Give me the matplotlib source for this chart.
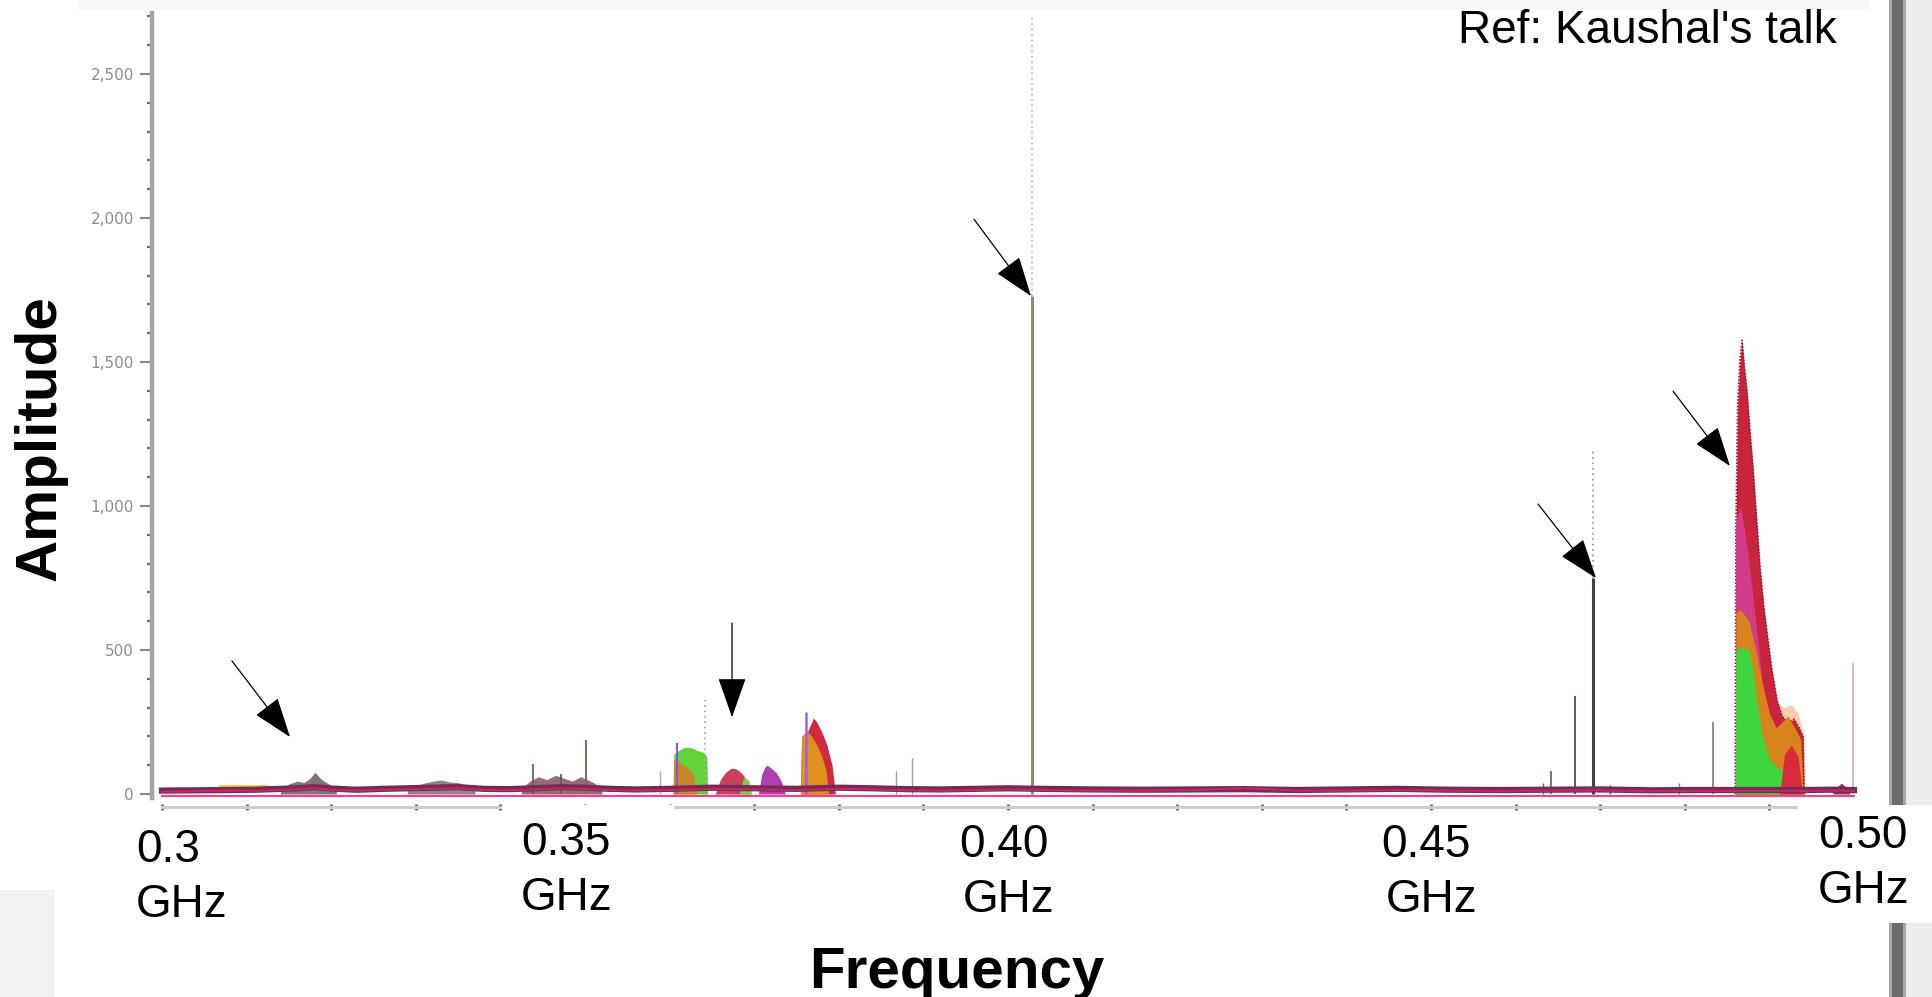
import matplotlib
matplotlib.use("Agg")
import matplotlib.pyplot as plt
from matplotlib.patches import Rectangle
from matplotlib.ticker import MultipleLocator, FuncFormatter

# ---------------- data (frequency in GHz, amplitude in arbitrary units) ----------------
base_freq = [0.3000, 0.3040, 0.3080, 0.3110, 0.3140, 0.3160, 0.3180, 0.3200, 0.3230, 0.3260,
             0.3290, 0.3320, 0.3350, 0.3380, 0.3410, 0.3440, 0.3470, 0.3500, 0.3530, 0.3560,
             0.3600, 0.3650, 0.3700, 0.3750, 0.3800, 0.3840, 0.3880, 0.3920, 0.3960, 0.4000,
             0.4040, 0.4100, 0.4160, 0.4220, 0.4280, 0.4340, 0.4400, 0.4460, 0.4520, 0.4580,
             0.4640, 0.4700, 0.4760, 0.4820, 0.4860, 0.4940, 0.4970, 0.5000]
base_amp = [12, 13, 14, 15, 18, 20, 24, 19, 15, 18,
            20, 22, 24, 18, 17, 20, 24, 22, 18, 16,
            18, 22, 20, 18, 22, 20, 17, 16, 18, 20,
            18, 16, 15, 16, 17, 14, 16, 18, 15, 14,
            15, 16, 13, 14, 14, 14, 15, 14]
base2_amp = [8, 10, 12, 11, 14, 16, 20, 14, 12, 15,
             16, 18, 20, 14, 13, 16, 20, 18, 14, 12,
             14, 18, 16, 14, 18, 16, 13, 12, 14, 16,
             14, 12, 12, 14, 20, 12, 12, 14, 12, 11,
             12, 13, 10, 11, 11, 11, 12, 11]
floor_freq = [0.3000, 0.5000]
floor_amp = [-6, -6]

# low bumps
bumpA_freq = [0.3140, 0.3150, 0.3160, 0.3168, 0.3175, 0.3181, 0.3187, 0.3193, 0.3200, 0.3206]
bumpA_amp = [15, 35, 45, 40, 55, 76, 55, 42, 30, 15]
bumpB_freq = [0.3290, 0.3300, 0.3310, 0.3320, 0.3330, 0.3340, 0.3350, 0.3360, 0.3370]
bumpB_amp = [15, 30, 38, 45, 49, 42, 40, 30, 15]
yellow_freq = [0.3069, 0.3124]
yellow_amp = [27, 27]
cluster_freq = [0.3425, 0.3435, 0.3445, 0.3455, 0.3465, 0.3475, 0.3485, 0.3495, 0.3510, 0.3520]
cluster_amp = [20, 45, 60, 50, 65, 55, 45, 60, 40, 20]

# 0.36 - 0.38 GHz structures
green1_freq = [0.36040, 0.36050, 0.36100, 0.36160, 0.36220, 0.36280, 0.36340, 0.36400, 0.36440, 0.36450]
green1_amp = [0, 140, 150, 160, 163, 158, 150, 145, 130, 0]
orange1_freq = [0.36040, 0.36050, 0.36120, 0.36200, 0.36280, 0.36320]
orange1_amp = [0, 120, 110, 95, 70, 0]
bump2_freq = [0.36540, 0.36600, 0.36660, 0.36720, 0.36753, 0.36800, 0.36860, 0.36920, 0.36955]
bump2_amp = [0, 50, 75, 88, 90, 85, 70, 45, 0]
bump2g_freq = [0.3682, 0.3688, 0.3694, 0.3697]
bump2g_amp = [0, 60, 45, 0]
purple3_freq = [0.37049, 0.37090, 0.37130, 0.37156, 0.37200, 0.37260, 0.37320, 0.37369]
purple3_amp = [0, 70, 95, 100, 90, 75, 45, 0]
red4_freq = [0.37546, 0.37560, 0.37620, 0.37680, 0.37700, 0.37740, 0.37800, 0.37860, 0.37920, 0.37960]
red4_amp = [0, 180, 210, 250, 264, 250, 215, 170, 100, 0]
orange4_freq = [0.37546, 0.37560, 0.37620, 0.37680, 0.37740, 0.37800, 0.37850, 0.37880]
orange4_amp = [0, 200, 220, 200, 170, 130, 80, 0]

# big peak near 0.487 GHz
peak_red_freq = [0.48597, 0.48603, 0.48625, 0.48650, 0.48676, 0.48705, 0.48735, 0.48770, 0.48806,
                 0.48850, 0.48889, 0.48930, 0.48972, 0.49030, 0.49090, 0.49150, 0.49220, 0.49290,
                 0.49350, 0.49397, 0.49410]
peak_red_amp = [0, 900, 1350, 1500, 1576, 1480, 1400, 1260, 1135,
                950, 788, 660, 559, 430, 326, 270, 250, 260,
                230, 200, 0]
peak_fringe_freq = [0.4903, 0.4910, 0.4918, 0.4926, 0.4934, 0.4941, 0.4942]
peak_fringe_amp = [250, 316, 300, 310, 280, 200, 0]
peak_mag_freq = [0.48597, 0.48605, 0.48660, 0.48740, 0.48820, 0.48900, 0.48980]
peak_mag_amp = [0, 950, 1000, 850, 650, 430, 0]
peak_orange_freq = [0.48597, 0.48605, 0.48660, 0.48760, 0.48840, 0.48920, 0.49000, 0.49080,
                    0.49150, 0.49220, 0.49300, 0.49370, 0.49400]
peak_orange_amp = [0, 630, 640, 600, 500, 380, 280, 230, 250, 270, 230, 190, 0]
peak_green_freq = [0.48597, 0.48605, 0.48660, 0.48760, 0.48810, 0.48860, 0.48920, 0.49000,
                   0.49100, 0.49200, 0.49300, 0.49380]
peak_green_amp = [0, 500, 510, 500, 420, 300, 200, 120, 90, 80, 70, 0]
peak_red2_freq = [0.4912, 0.4918, 0.4926, 0.4934, 0.4939]
peak_red2_amp = [0, 140, 170, 130, 0]
bump5_freq = [0.4975, 0.4980, 0.4985, 0.4990, 0.4995]
bump5_amp = [12, 25, 38, 25, 12]

# narrow spectral lines
spike_freq = [0.3438, 0.3472, 0.3501, 0.3589, 0.3609, 0.3761, 0.3868, 0.3887,
              0.4028, 0.4632, 0.4642, 0.4670, 0.4692, 0.4711, 0.4793, 0.4833, 0.4999]
spike_amp = [103, 68, 188, 80, 177, 285, 81, 124,
             1730, 40, 80, 340, 750, 30, 40, 250, 455]
spike_color = ["#7a4a50", "#7a4a50", "#8a6a60", "#b0b0b0", "#9050d0", "#a060e0", "#a0a0a0", "#a0a0a0",
               "#978c6e", "#6a5a60", "#6a5a60", "#5a4a50", "#4b3b44", "#7a5a60", "#8a7a80", "#9a8a86", "#d8b8c0"]
spike_width = [1.2, 1.2, 1.5, 1.0, 1.5, 1.8, 1.0, 1.0,
               2.2, 1.0, 1.2, 1.3, 2.2, 1.0, 1.0, 1.4, 1.4]
dotted_freq = [0.3642, 0.4028, 0.4692]
dotted_lo = [20, 1730, 750]
dotted_hi = [326, 2700, 1190]

y_major = 500
y_minor = 100
x_ticks = [0.30, 0.31, 0.32, 0.33, 0.34, 0.35, 0.36, 0.37, 0.38, 0.39,
           0.40, 0.41, 0.42, 0.43, 0.44, 0.45, 0.46, 0.47, 0.48, 0.49]
ghz_labels = ["0.3", "0.35", "0.40", "0.45", "0.50"]

# arrows: (tail_freq, tail_amp, tip_freq, tip_amp)
arrows = [(0.30827, 462, 0.31513, 198),
          (0.36738, 594, 0.36738, 267),
          (0.39598, 1996, 0.40272, 1729),
          (0.46265, 1007, 0.46950, 750),
          (0.47861, 1399, 0.48534, 1139)]

# ---------------- figure ----------------
W, H = 1933, 997
fig = plt.figure(figsize=(W / 100, H / 100), dpi=100)
fig.patch.set_facecolor("white")


def rect(x, y, w, h, color, z):
    fig.add_artist(Rectangle((x / W, 1 - (y + h) / H), w / W, h / H, transform=fig.transFigure,
                             facecolor=color, edgecolor="none", zorder=z))


# slide background bits
rect(79, 0, 1790, 10, "#f8f7f3", -2)
rect(0, 890, 55, 107, "#f2f2f0", -2)
rect(1903, 0, 30, 997, "#ececea", -2)
rect(1889, 0, 3, 997, "#a8a8a8", -2)
rect(1892, 0, 11, 997, "#6c6c6c", -2)
rect(1903, 0, 3, 997, "#a8a8a8", -2)

ax = fig.add_axes([152 / W, (H - 807) / H, 1710 / W, (807 - 13) / H])
ax.set_facecolor("none")
ax.set_xlim(0.298818, 0.500946)
ax.set_ylim(-45, 2712)

fill = dict(lw=0, zorder=2)
# low-level structures
ax.fill_between(bumpA_freq, 0, bumpA_amp, color="#6b5b6b", alpha=0.85, **fill)
ax.fill_between(bumpB_freq, 0, bumpB_amp, color="#6b5b6b", alpha=0.75, **fill)
ax.plot(yellow_freq, yellow_amp, color="#e8d040", lw=2, zorder=2)
ax.fill_between(cluster_freq, 0, cluster_amp, color="#7a4a4a", alpha=0.8, **fill)

ax.fill_between(green1_freq, 0, green1_amp, color="#62d23a", **fill)
ax.fill_between(orange1_freq, 0, orange1_amp, color="#c8882a", **fill)
ax.fill_between(bump2_freq, 0, bump2_amp, color="#c84060", **fill)
ax.fill_between(bump2g_freq, 0, bump2g_amp, color="#7ad040", **fill)
ax.fill_between(purple3_freq, 0, purple3_amp, color="#b040b0", **fill)
ax.fill_between(red4_freq, 0, red4_amp, color="#d02a40", **fill)
ax.fill_between(orange4_freq, 0, orange4_amp, color="#e0901c", **fill)

# big peak
ax.fill_between(peak_fringe_freq, 0, peak_fringe_amp, color="#f0b070", alpha=0.6, **fill)
ax.fill_between(peak_red_freq, 0, peak_red_amp, color="#c8243c", **fill)
ax.plot(peak_red_freq, peak_red_amp, color="#a01830", lw=1.2, ls=(0, (1, 1)), zorder=2)
ax.fill_between(peak_mag_freq, 0, peak_mag_amp, color="#d23a8a", **fill)
ax.fill_between(peak_orange_freq, 0, peak_orange_amp, color="#d8841c", **fill)
ax.fill_between(peak_green_freq, 0, peak_green_amp, color="#3ed63e", **fill)
ax.fill_between(peak_red2_freq, 0, peak_red2_amp, color="#d82a3a", **fill)
ax.fill_between(bump5_freq, 0, bump5_amp, color="#8a3a5a", **fill)

# narrow lines
ax.vlines(spike_freq, 0, spike_amp, colors=spike_color, linewidths=spike_width, zorder=3)
ax.vlines(dotted_freq, dotted_lo, dotted_hi, colors=["#b0b0b0", "#c0b8b0", "#a89aa0"],
          linewidths=1.3, linestyles=(0, (1, 2)), zorder=3)

# baseline traces
ax.plot(base_freq, base_amp, color="#7b2856", lw=4.5, zorder=4, solid_joinstyle="round")
ax.plot(base_freq, base2_amp, color="#c83060", lw=1.5, alpha=0.8, zorder=4)
ax.plot(floor_freq, floor_amp, color="#ff3a96", lw=1.5, zorder=4)

# arrows
for tf, ta, hf, ha in arrows:
    ax.annotate("", xy=(hf, ha), xytext=(tf, ta),
                arrowprops=dict(arrowstyle="-|>,head_length=1.7,head_width=0.6", mutation_scale=15,
                                lw=0.9, color="black", shrinkA=0, shrinkB=0), zorder=6)

# axes styling
for s in ("top", "right"):
    ax.spines[s].set_visible(False)
ax.spines["left"].set_color("#a5a5a5")
ax.spines["left"].set_linewidth(3.2)
ax.spines["left"].set_bounds(-14, 2712)
ax.spines["bottom"].set_color("#cdcdcd")
ax.spines["bottom"].set_linewidth(2.2)
ax.spines["bottom"].set_bounds(0.3, 0.4933)

ax.yaxis.set_major_locator(MultipleLocator(y_major))
ax.yaxis.set_minor_locator(MultipleLocator(y_minor))
ax.yaxis.set_major_formatter(FuncFormatter(lambda v, p: f"{int(v):,}"))
ax.tick_params(axis="y", which="major", length=9, width=1.5, color="#8a8a8a",
               labelsize=11, labelcolor="#8c8c8c", pad=4)
ax.tick_params(axis="y", which="minor", length=3.5, width=1.6, color="#6a6a6a")
ax.set_xticks(x_ticks)
ax.set_xticklabels([])
ax.tick_params(axis="x", which="major", length=5, width=2, color="#606060", direction="inout")

# white text boxes covering parts of the original axis
rect(502, 805, 172, 120, "white", 5)
rect(1798, 805, 135, 118, "white", 5)

txt = dict(family="Liberation Sans", color="black", zorder=7)
ghz_pos = [(136, 862), (521, 855), (959, 857), (1381, 857), (1818, 848)]
ghz_unit_dx = [0, 0, 4, 5, 0]
for lab, (x, yb), dx in zip(ghz_labels, ghz_pos, ghz_unit_dx):
    fig.text(x / W, 1 - yb / H, lab, ha="left", va="baseline", fontsize=33, **txt)
    fig.text((x + dx) / W, 1 - (yb + 55) / H, "GHz", ha="left", va="baseline", fontsize=33, **txt)

fig.text(1837 / W, 1 - 43 / H, "Ref: Kaushal's talk", ha="right", va="baseline", fontsize=33, **txt)
fig.text(957 / W, 1 - 988 / H, "Frequency", ha="center", va="baseline", fontsize=42,
         fontweight="bold", **txt)
fig.text(56 / W, 1 - 438 / H, "Amplitude", ha="center", va="baseline", rotation=90,
         rotation_mode="anchor", fontsize=42, fontweight="bold", **txt)

fig.savefig("out.png", dpi=100, facecolor="white")
